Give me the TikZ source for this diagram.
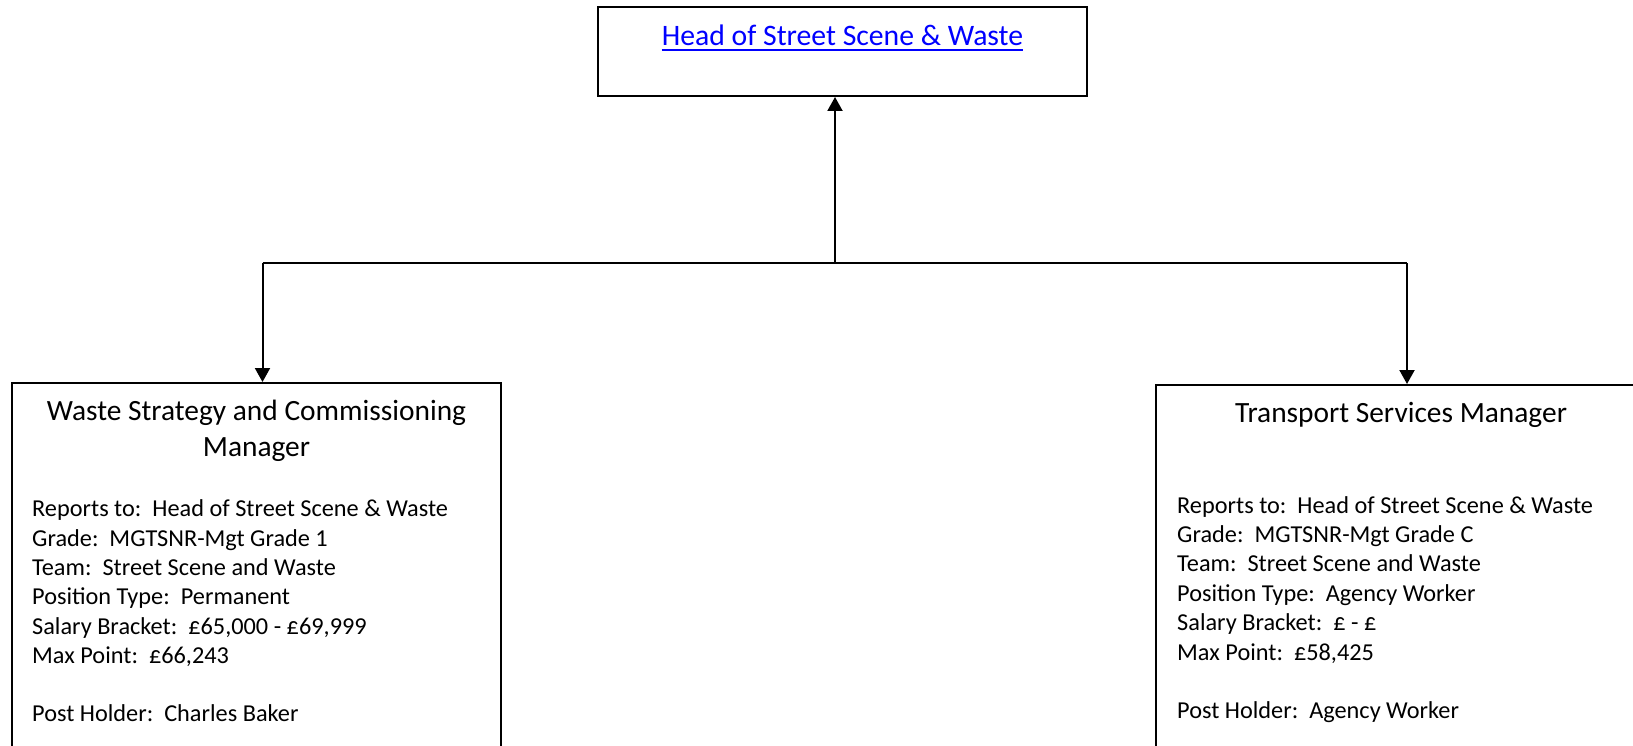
\documentclass[tikz,border=0pt]{standalone}
\usepackage{fontspec}
\setmainfont{Carlito}
\usetikzlibrary{arrows.meta}
\definecolor{linkblue}{RGB}{0,0,255}
\begin{document}
\begin{tikzpicture}[x=1pt,y=-1pt,
  box/.style={draw=black,line width=2pt,inner sep=0pt,rectangle},
  conn/.style={draw=black,line width=2pt},
  arr/.style={conn,-{Triangle[width=15pt,length=14pt]}},
  body/.style={anchor=base west,inner sep=0pt,font=\fontsize{24.3}{29}\selectfont},
  ttl/.style={anchor=base,inner sep=0pt,font=\fontsize{29.4}{35}\selectfont},
  link/.style={anchor=base,inner sep=0pt,text=linkblue,font=\fontsize{29.7}{35}\selectfont}]
\useasboundingbox (0,0) rectangle (1633,746);
\clip (0,0) rectangle (1633,746);
\fill[white] (0,0) rectangle (1633,746);

% top box
\node[box,minimum width=489pt,minimum height=89pt] (head) at (842.5,51.5) {};
\node[link] (headtxt) at (842.5,46) {Head of Street Scene \& Waste};
\draw[linkblue,line width=2pt] ([yshift=-4.5pt]headtxt.base west) -- ([yshift=-4.5pt]headtxt.base east);

% left box
\node[box,minimum width=489pt,minimum height=437pt] (wbox) at (256.5,601.5) {};
\node[ttl] (wt1) at (256.5,420) {Waste Strategy and Commissioning};
\node[ttl] (wt2) at (256.5,456) {Manager};
\node[body] (w1) at (32,516.7) {Reports to:\ \ Head of Street Scene \& Waste};
\node[body] (w2) at (32,546.1) {Grade:\ \ MGTSNR-Mgt Grade 1};
\node[body] (w3) at (32,575.5) {Team:\ \ Street Scene and Waste};
\node[body] (w4) at (32,604.9) {Position Type:\ \ Permanent};
\node[body] (w5) at (32,634.3) {Salary Bracket:\ \ £65,000 - £69,999};
\node[body] (w6) at (32,663.7) {Max Point:\ \ £66,243};
\node[body] (w7) at (32,721.7) {Post Holder:\ \ Charles Baker};

% right box
\node[box,minimum width=496pt,minimum height=435pt] (tbox) at (1404,602.5) {};
\node[ttl] (tt1) at (1401,422.7) {Transport Services Manager};
\node[body] (t1) at (1177,513) {Reports to:\ \ Head of Street Scene \& Waste};
\node[body] (t2) at (1177,542.4) {Grade:\ \ MGTSNR-Mgt Grade C};
\node[body] (t3) at (1177,571.8) {Team:\ \ Street Scene and Waste};
\node[body] (t4) at (1177,601.2) {Position Type:\ \ Agency Worker};
\node[body] (t5) at (1177,630.6) {Salary Bracket:\ \ £ - £};
\node[body] (t6) at (1177,660) {Max Point:\ \ £58,425};
\node[body] (t7) at (1177,718) {Post Holder:\ \ Agency Worker};

% connectors
\coordinate (j) at (835,263.3);
\coordinate (lc) at (262.5,263.3);
\coordinate (rc) at (1407,263.3);
\draw[conn] (lc) -- (rc);
\draw[arr] (j) -- (j |- head.south);
\draw[arr] (lc) -- (lc |- wbox.north);
\draw[arr] (rc) -- (rc |- tbox.north);
\end{tikzpicture}
\end{document}
